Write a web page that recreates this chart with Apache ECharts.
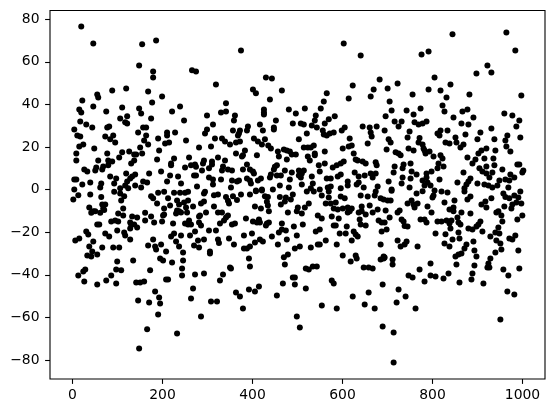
<!DOCTYPE html>
<html>
<head>
<meta charset="utf-8">
<style>html,body{margin:0;padding:0;background:#fff}#c{width:555px;height:413px}</style>
<script src="https://cdn.jsdelivr.net/npm/echarts@6/dist/echarts.min.js"></script>
</head>
<body>
<div id="c"></div>
<script>
const xTicks = [0, 200, 400, 600, 800, 1000];
const yTicks = [-80, -60, -40, -20, 0, 20, 40, 60, 80];
const upperLeft = [[19.5,76.6],[46.2,68.6],[154.8,68.2],[185.8,70],[148.1,58.3],[179.2,55.5],[179.2,52.7],[265.6,56],[274.5,55.5],[318.8,49.4],[88.3,46.6],[119.3,47.5],[168.1,46.1],[55,44.7],[57.2,43.3],[199.1,43.7],[21.8,41.9],[177,40.9],[46.2,39],[110.4,38.6],[148.1,38.1],[15.1,37.6],[19.5,36.2],[152.6,35.8],[75,36.7],[239,39],[221.3,36.7],[298.9,34.8],[121.5,34.4],[106,33.4],[174.7,33.4],[247.9,32.5],[17.3,32],[117.1,31.6],[121.5,31.1],[30.6,30.6],[43.9,29.2],[81.6,29.7],[77.2,29.2],[157,29.2],[163.7,29.2],[4,28.2],[298.9,28.2],[312.2,30.6],[294.5,26.4],[145.9,26.8],[210.2,26.8],[210.2,25.4],[228,26.8],[10.7,25.4],[17.3,25],[72.8,25],[90.5,25.4],[83.8,23.6],[94.9,22.1],[163.7,25.4],[159.2,23.1],[190.3,24],[252.3,23.1],[316.6,24],[168.1,21.2],[214.6,22.1],[205.8,21.7],[24,21.2],[15.1,20.3],[48.4,19.3],[150.4,19.8],[281.2,19.8],[307.8,20.3],[192.5,18.4],[126,17.9],[110.4,17.5],[8.5,17],[77.2,17],[137.1,16.5],[141.5,16.5],[154.8,17],[103.8,15.1],[8.5,13.7],[57.2,13.7],[79.4,13.7],[88.3,13.2],[188,14.2],[225.7,14.6],[259,15.1],[323.3,15.1],[137.1,13.7],[130.4,12.3],[79.4,11.4],[219.1,12.3],[219.1,11.4],[292.2,13.7],[290,12.3],[310,13.2],[310,11.8],[272.3,11.8],[263.4,11.4],[274.5,10.7],[250.1,10.4],[52.8,10.4],[50.6,9],[68.3,10.9],[66.1,9.5],[26.2,9.5],[32.9,8.5],[196.9,8.5],[170.3,7.6],[287.8,9],[303.3,10],[119.3,7.6],[139.3,7.1],[132.6,6.2],[128.2,5.2],[121.5,3.8],[83.8,6.2],[97.1,5.2],[4,4.8],[8.5,4.8],[92.7,2.9],[274.5,6.6],[270.1,6.6],[216.9,6.6],[234.6,6.2],[303.3,5.7],[312.2,4.8],[157,3.8],[165.9,3.4],[210.2,3.8],[241.2,2.9],[21.8,2.4],[39.5,3.4],[63.9,2.9],[61.7,1],[312.2,2.4],[139.3,2],[117.1,2],[123.8,0.6],[152.6,1],[276.7,1.5],[4,0.1],[106,0.6]];
const lowerLeft = [[12.9,-2.6],[1.8,-4.6],[39.5,-2.3],[63.9,-3.4],[92.7,-1],[106,-1.8],[114.9,-3.1],[108.2,-5.1],[174.7,-3.1],[179.2,-4.1],[188,-6.5],[190.3,-1.5],[203.6,-1],[212.4,-4.1],[225.7,-1.5],[239,-1.5],[250.1,-1.5],[256.8,-1],[232.4,-5.1],[236.8,-7],[216.9,-7.4],[203.6,-8.8],[247.9,-6],[256.8,-5.1],[267.9,-7.9],[285.6,-6.5],[292.2,-5.6],[314.4,-7.9],[314.4,-2.6],[323.3,-2.3],[292.2,-1.8],[294.5,-1],[72.8,-7],[66.1,-7],[68.3,-8.8],[37.3,-8.4],[46.2,-10.2],[50.6,-10.2],[41.7,-10.9],[61.7,-10.9],[70.5,-9.6],[112.7,-8.8],[112.7,-12.1],[101.6,-11.2],[161.4,-10.9],[174.7,-12.6],[132.6,-12.6],[143.7,-13.1],[203.6,-11.7],[201.3,-12.1],[232.4,-9.8],[230.2,-11.2],[236.8,-10.2],[241.2,-10.7],[252.3,-8.4],[254.6,-10.7],[283.4,-12.1],[281.2,-12.6],[296.7,-10.7],[323.3,-10.7],[161.4,-14.5],[199.1,-14.9],[181.4,-15.4],[86.1,-14.9],[94.9,-14.5],[101.6,-14.9],[128.2,-15.4],[130.4,-16.4],[137.1,-16.4],[128.2,-18.2],[143.7,-17.8],[223.5,-15.9],[250.1,-15.9],[259,-14.5],[256.8,-16.4],[263.4,-16.4],[281.2,-15.4],[285.6,-16.8],[327.7,-15.9],[55,-16.4],[59.5,-16.4],[99.4,-19.2],[30.6,-19.6],[35.1,-21.1],[72.8,-20.6],[81.6,-22],[114.9,-20.1],[117.1,-21.5],[128.2,-23.4],[225.7,-20.6],[219.1,-22],[241.2,-21.5],[272.3,-19.6],[261.2,-21.5],[303.3,-19.2],[318.8,-19.2],[323.3,-23.4],[325.5,-25],[6.2,-23.9],[15.1,-22.9],[46.2,-24.3],[37.3,-26.7],[179.2,-23.4],[230.2,-24.3],[278.9,-23.9],[292.2,-23.4],[168.1,-26.2],[183.6,-26.7],[196.9,-25.7],[185.8,-28.1],[236.8,-26.7],[270.1,-26.2],[281.2,-27.2],[66.1,-27.2],[90.5,-27.2],[103.8,-27.2],[43.9,-29],[208,-29],[245.7,-29.5],[305.5,-29],[305.5,-30],[32.9,-30.9],[41.7,-31.4],[55,-30.4],[134.8,-33.3],[99.4,-33.7],[194.7,-32.3],[201.3,-33.3],[221.3,-34.2],[245.7,-33.3],[243.5,-37],[272.3,-39.8],[292.2,-39.4],[97.1,-37.5],[108.2,-37.9],[172.5,-37.9],[28.4,-37.5],[24,-38.4],[12.9,-40.3],[86.1,-40.3],[243.5,-40.3],[26.2,-43.1],[75,-42.6],[55,-44.5],[97.1,-44.1],[141.5,-43.6],[150.4,-43.6],[159.2,-43.1],[208,-42.2],[212.4,-42.2],[327.7,-42.6],[267.9,-46.4],[183.6,-47.8],[192.5,-50.6],[145.9,-52],[170.3,-53],[194.7,-53.4],[263.4,-51.1],[307.8,-52.5],[321.1,-52.5],[190.3,-58.6],[285.6,-59.6],[165.9,-65.6],[232.4,-67.5],[148.1,-74.6]];
const upperMiddle = [[374.4,65.3],[602.7,68.6],[640.4,63],[429.8,52.7],[443.1,52.2],[682.5,51.7],[622.7,48.9],[401,47],[407.6,45.2],[465.3,46.6],[669.2,47],[662.6,43.7],[565,45.2],[438.7,42.3],[613.8,42.8],[558.4,41.4],[341.1,40.5],[551.7,38.1],[480.8,37.6],[516.3,38.1],[425.4,37.6],[425.4,36.2],[425.4,35.3],[330,36.2],[341.1,36.7],[496.3,35.8],[361,34.8],[540.6,34.8],[538.4,32.5],[358.8,32.5],[452,32.5],[569.5,33],[582.8,34.4],[416.5,30.6],[489.6,31.1],[507.4,31.1],[514,30.6],[531.8,30.1],[542.9,29.2],[560.6,31.1],[447.5,29.2],[447.5,28.2],[389.9,29.7],[387.7,27.8],[423.1,27.8],[356.6,27.8],[372.1,27.8],[369.9,26.4],[367.7,25.4],[644.8,29.7],[660.4,29.2],[675.9,29.7],[662.6,26.8],[664.8,25],[604.9,29.2],[598.3,27.8],[556.2,27.8],[558.4,25.9],[565,25.4],[571.7,26.4],[580.5,26.8],[520.7,26.4],[616,24],[503,23.6],[332.2,24],[338.9,22.6],[350,21.2],[403.2,24],[412,22.6],[420.9,21.2],[427.6,23.6],[435,20.7],[440.9,19.3],[372.1,22.6],[363.3,22.1],[656,21.7],[620.5,20.7],[613.8,20.3],[600.5,19.3],[514,19.8],[522.9,19.8],[529.6,19.8],[536.2,20.7],[469.7,18.9],[476.3,18.4],[483,17.9],[456.4,17.9],[383.2,18.4],[560.6,17.9],[363.3,17],[409.8,16.1],[378.8,16.1],[376.6,15.6],[458.6,15.6],[487.4,16.5],[496.3,16.5],[538.4,17],[538.4,16.1],[522.9,15.6],[624.9,17],[476.3,14.2],[338.9,13.7],[527.3,13.7],[629.3,14.2],[633.8,13.7],[644.8,13.2],[651.5,12.3],[673.7,12.8],[675.9,11.4],[602.7,13.2],[596.1,12.3],[587.2,11.4],[578.3,10.4],[560.6,12.3],[547.3,11.4],[387.7,11.8],[454.2,11.4],[449.7,10.7],[447.5,9.5],[334.5,10.9],[332.2,9],[345.5,9.5],[354.4,9],[378.8,9.5],[394.3,9.5],[401,8.5],[403.2,7.6],[471.9,9],[503,9],[514,9],[487.4,8.1],[509.6,7.6],[549.5,8.5],[440.9,7.1],[438.7,5.7],[454.2,6.6],[463,6.6],[503,6.6],[507.4,5.7],[531.8,6.2],[627.1,8.1],[636,6.2],[649.3,6.6],[662.6,7.6],[673.7,7.6],[667,5.7],[596.1,7.1],[589.4,6.2],[573.9,5.2],[565,5.2],[611.6,3.8],[611.6,1.9],[636,3.4],[631.5,2.4],[387.7,5.2],[394.3,4.3],[396.5,2.9],[418.7,5.2],[412,4.3],[330,4.8],[354.4,4.3],[365.5,3.8],[369.9,4.3],[483,4.8],[534,2.9],[509.6,2.4],[460.8,2],[352.2,1],[420.9,0.1],[445.3,0.1],[480.8,1],[529.6,0.6],[573.9,1.5],[567.2,1],[647.1,1],[678.1,1.5],[596.1,0.6],[549.5,0.1],[407.6,-0.4]];
const lowerMiddle = [[341.1,-3.4],[347.8,-6.5],[345.5,-5.2],[356.6,-3.1],[365.5,-4.9],[374.4,-2.3],[394.3,-2.3],[407.6,-0.7],[420.9,-0.4],[427.6,-3.1],[434.2,-3.4],[432,-5.7],[434.2,-7.4],[405.4,-7.9],[418.7,-8.8],[436.4,-10.2],[460.8,-3.4],[474.1,-3.7],[463,-7],[471.9,-5.6],[485.2,-4.6],[489.6,-2.3],[520.7,-0.9],[536.2,-0.9],[553.9,-2.7],[569.5,-3.7],[569.5,-0.9],[596.1,-3.2],[604.9,-4.1],[640.4,-2.7],[656,-3.2],[671.5,-2.7],[673.7,-0.9],[684.7,-4.1],[562.8,-6.5],[573.9,-6.5],[585,-6],[525.1,-6.5],[516.3,-8.4],[500.7,-8.4],[498.5,-10.2],[509.6,-11.2],[478.6,-10.7],[580.5,-8.8],[589.4,-9.3],[600.5,-8.8],[611.6,-8.4],[620.5,-8.8],[611.6,-10.7],[616,-10.2],[642.6,-7.9],[636,-10.7],[642.6,-10.2],[651.5,-11.7],[660.4,-7.4],[667,-10.7],[678.1,-9.3],[332.2,-10.7],[345.5,-12.1],[341.1,-13.1],[336.7,-14.5],[354.4,-16.4],[361,-15.9],[385.4,-13.5],[401,-14.9],[409.8,-15.4],[414.3,-14],[416.5,-15.4],[429.8,-16.8],[436.4,-15.4],[432,-15.9],[465.3,-15.9],[491.9,-17.3],[511.8,-16.4],[545.1,-12.1],[553.9,-13.5],[576.1,-12.6],[591.6,-13.5],[638.2,-14],[640.4,-16.4],[651.5,-16.8],[680.3,-14.5],[687,-15.4],[580.5,-16.8],[585,-16.8],[609.4,-17.3],[458.6,-20.1],[465.3,-18.7],[474.1,-19.2],[498.5,-21.5],[540.6,-19.6],[549.5,-18.7],[593.8,-20.6],[607.1,-20.6],[624.9,-19.6],[629.3,-21.1],[633.8,-22],[687,-19.6],[381,-21.5],[398.8,-20.6],[443.1,-22],[347.8,-22.9],[358.8,-25.7],[405.4,-24.8],[416.5,-23.4],[423.1,-24.3],[476.3,-23.4],[562.8,-23.9],[620.5,-23.9],[456.4,-25.7],[587.2,-25.7],[684.7,-25.7],[381,-27.6],[387.7,-27.6],[394.3,-26.7],[494.1,-27.6],[505.2,-26.7],[529.6,-27.2],[545.1,-25.7],[549.5,-25.7],[478.6,-30.4],[469.7,-31.8],[600.5,-30.9],[629.3,-30.9],[631.5,-32.3],[618.2,-33.7],[684.7,-32.8],[691.4,-31.4],[691.4,-32.3],[392.1,-32.3],[471.9,-35.1],[394.3,-36.1],[350,-36.5],[352.2,-37],[518.5,-37],[525.1,-37.5],[534,-36.1],[542.9,-36.1],[647.1,-36.5],[658.1,-36.5],[667,-37],[334.5,-39.8],[489.6,-41.2],[494.1,-41.2],[576.1,-42.6],[580.5,-44.1],[467.5,-44.1],[494.1,-44.5],[414.3,-45.5],[405.4,-47.8],[392.1,-46.9],[518.5,-46.4],[689.2,-44.5],[363.3,-48.3],[372.1,-50.2],[454.2,-49.7],[622.7,-50.2],[658.1,-48.3],[554,-54.4],[649.3,-53.9],[378.8,-55.8],[587.2,-55.8],[671.5,-55.8],[498.5,-59.6],[505.2,-64.7],[689.2,-64.2]];
const upperRight = [[844.4,72.9],[964.1,73.8],[775.6,63.5],[791.2,64.9],[984,65.3],[922,58.3],[897.6,54.5],[930.8,55],[804.5,52.7],[722.4,49.8],[839.9,49.4],[700.3,47.5],[791.2,47],[817.8,46.6],[755.7,44.7],[882,44.7],[997.3,44.2],[831.1,43.3],[704.7,41.4],[822.2,39.5],[709.1,37.2],[742.4,37.2],[773.4,38.1],[826.6,36.7],[866.5,36.7],[877.6,37.6],[757.9,35.3],[695.8,34.4],[959.6,35.8],[977.4,34.8],[846.6,33.9],[890.9,33.9],[992.9,32.5],[715.8,32],[731.3,32],[724.6,29.7],[760.1,31.6],[769,30.6],[777.9,31.1],[786.7,32],[864.3,31.1],[879.8,30.6],[986.3,29.7],[693.6,27.8],[749,27.3],[817.8,27.8],[811.1,26.4],[815.5,25.4],[833.3,27.8],[930.8,28.7],[906.4,26.8],[873.2,25.9],[744.6,24.5],[771.2,24.2],[851,24.5],[899.8,23.6],[966.3,25.4],[937.5,23.6],[961.9,23.1],[995.1,24.5],[702.5,23.6],[706.9,22.1],[769,22.1],[777.9,21.2],[853.2,22.1],[828.8,22.1],[837.7,21.7],[868.8,21.2],[862.1,19.8],[964.1,20.3],[919.7,19.3],[939.7,18.4],[973,17.9],[698,18.9],[746.8,19.3],[757.9,18.4],[780.1,19.3],[782.3,18.4],[718,17.5],[724.6,17],[729.1,16.1],[793.4,17.9],[784.5,17],[802.2,15.6],[817.8,16.1],[822.2,14.6],[908.7,18.4],[902,17],[877.6,15.1],[935.3,14.6],[915.3,14.6],[895.4,14.2],[888.7,12.3],[813.3,12.3],[811.1,10],[824.4,10.9],[751.2,12.3],[735.7,11.8],[733.5,10],[715.8,10.9],[713.6,8.1],[919.7,10.9],[937.5,11.4],[904.2,10],[910.9,8.5],[919.7,7.6],[933,8.1],[988.5,11.8],[992.9,11.8],[1001.8,9],[999.6,8.1],[955.2,9.5],[797.8,8.5],[786.7,7.6],[753.5,8.5],[764.6,7.1],[733.5,5.7],[751.2,5.2],[868.8,8.1],[815.5,4.8],[884.3,5.2],[879.8,3.8],[786.7,5.7],[777.9,4.3],[788.9,3.4],[926.4,5.7],[973,7.1],[981.8,5.7],[961.9,4.8],[948.6,4.3],[970.7,4.3],[702.5,3.8],[731.3,2.9],[855.4,3.4],[899.8,2.9],[915.3,2.4],[924.2,2],[933,1],[944.1,2],[875.4,2.4],[871,0.6],[782.3,2],[795.6,2],[749,1],[709.1,0.1],[968.5,1]];
const lowerRight = [[709.1,-0.5],[764.6,-1.8],[777.9,-0.7],[802.2,-2.7],[800,-3.7],[804.5,-0.4],[820,-0.9],[833.3,-1.3],[871,-0.9],[884.3,-3.2],[877.6,-4.6],[930.8,-4.1],[957.4,-1.8],[961.9,-3.4],[970.7,-4.1],[981.8,-2.7],[990.7,-3.7],[995.1,-0.9],[691.4,-4.6],[700.3,-5.1],[706.9,-5.1],[744.6,-6.5],[753.5,-5.1],[757.9,-7],[766.8,-6.5],[760.1,-8.4],[826.6,-6],[848.8,-5.1],[788.9,-7.9],[837.7,-9.3],[846.6,-8.4],[846.6,-10.2],[797.8,-10.7],[864.3,-10.7],[884.3,-11.2],[908.7,-7],[917.5,-5.6],[919.7,-8.4],[959.6,-7.9],[986.3,-6],[997.3,-6.5],[977.4,-7],[975.2,-8.8],[722.4,-10.7],[726.9,-9.8],[695.8,-9.8],[704.7,-13.1],[731.3,-14],[735.7,-14.9],[738,-17.1],[744.6,-17.3],[773.4,-14],[782.3,-14],[786.7,-15.4],[811.1,-14.9],[820,-14.9],[831.1,-14.5],[842.1,-14.5],[837.7,-15.9],[839.9,-18.2],[855.4,-13.1],[857.7,-15.4],[862.1,-16.4],[941.9,-10.7],[946.3,-10.2],[953,-12.1],[988.5,-14],[999.6,-12.1],[955.2,-14.9],[906.4,-14.9],[902,-16.4],[897.6,-17.3],[879.8,-18.2],[888.7,-18.7],[910.9,-19.6],[946.3,-17.8],[693.6,-15.4],[698,-18.7],[806.7,-20.6],[828.8,-21],[857.7,-20.1],[859.9,-22.9],[844.4,-23.4],[928.6,-22],[939.7,-20.1],[948.6,-20.6],[941.9,-23.9],[950.8,-25.3],[970.7,-22.9],[977.4,-23.4],[984,-21.5],[890.9,-24.3],[722.4,-23.9],[742.4,-24.3],[738,-25.7],[729.1,-26.7],[766.8,-26.7],[826.6,-25.3],[837.7,-26.7],[875.4,-25.7],[871,-27.6],[953,-28.1],[990.7,-28.6],[893.1,-28.6],[939.7,-29.5],[864.3,-30],[857.7,-30.4],[851,-31.4],[897.6,-31.4],[693.6,-31.9],[711.3,-32.8],[711.3,-35.1],[928.6,-32.3],[795.6,-34.7],[853.2,-35.1],[893.1,-35.6],[924.2,-34.7],[922,-36.5],[926.4,-36.5],[771.2,-37.5],[957.4,-37.5],[992.9,-37],[888.7,-39.4],[835.5,-39.4],[746.8,-40.3],[755.7,-41.2],[795.6,-40.3],[806.7,-40.8],[824.4,-41.7],[782.3,-43.1],[859.9,-43.6],[886.5,-42.2],[913.1,-44.1],[968.5,-40.3],[724.6,-46.9],[966.3,-47.8],[981.8,-49.2],[740.2,-50.2],[720.2,-53],[762.3,-55.8],[950.8,-61],[713.6,-67.1],[713.6,-81.1]];

const points = [].concat(upperLeft, lowerLeft, upperMiddle, lowerMiddle, upperRight, lowerRight);
const chart = echarts.init(document.getElementById('c'), null, {renderer: 'canvas'});
const font = {color: '#000', fontFamily: 'DejaVu Sans', fontSize: 13.9};
const tickText = v => String(v).replace('-', '\u2212');
chart.setOption({
  animation: false,
  backgroundColor: '#fff',
  grid: {left: 50, right: 10, top: 10.5, bottom: 34, show: true, borderColor: '#000', borderWidth: 1.1, backgroundColor: 'transparent'},
  xAxis: {
    type: 'value', min: -49.95, max: 1049.95, splitLine: {show: false},
    axisLine: {show: false, onZero: false},
    axisTick: {show: true, length: 4.9, lineStyle: {color: '#000', width: 1.1}, customValues: xTicks},
    axisLabel: {...font, margin: 9.5, customValues: xTicks, formatter: tickText}
  },
  yAxis: {
    type: 'value', min: -88.9, max: 84.1, splitLine: {show: false},
    axisLine: {show: false, onZero: false},
    axisTick: {show: true, length: 4.9, lineStyle: {color: '#000', width: 1.1}, customValues: yTicks},
    axisLabel: {...font, margin: 10.5, customValues: yTicks, formatter: tickText}
  },
  series: [{
    type: 'scatter', data: points, symbol: 'circle', symbolSize: 6,
    itemStyle: {color: '#000', opacity: 1}, silent: true, clip: false
  }]
});
</script>
</body>
</html>
